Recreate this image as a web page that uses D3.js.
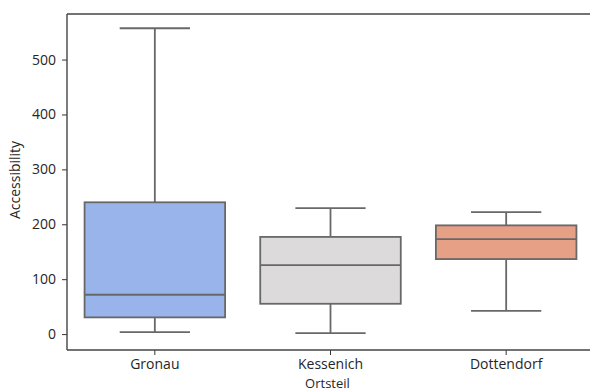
<!DOCTYPE html>
<html>
<head>
<meta charset="utf-8">
<script src="https://cdn.jsdelivr.net/npm/d3@7"></script>
<style>
  html, body { margin: 0; padding: 0; background: #fff; }
  svg { display: block; }
  text { font-family: "Open Sans", sans-serif; fill: #262626; }
</style>
</head>
<body>
<svg id="chart" width="590" height="392"></svg>
<script>
// Accessibility distribution per Ortsteil (box statistics)
const categories = ["Gronau", "Kessenich", "Dottendorf"];
const whiskerLow  = [3.6, 1.8, 42.4];
const quartile1   = [30.4, 55.2, 136.6];
const medians     = [71.6, 125.7, 173.0];
const quartile3   = [240.0, 177.0, 198.0];
const whiskerHigh = [557.0, 229.5, 222.0];
const boxColors   = ["#99b4eb", "#dcdada", "#e6a085"];
const yTicks      = [0, 100, 200, 300, 400, 500];

(function () {
  const svg = d3.select("#chart");
  const plotL = 67, plotR = 594, plotT = 14, plotB = 350;
  const fontSize = "14px";

  const x = d3.scaleBand().domain(categories).range([plotL, plotR]).paddingInner(0).paddingOuter(0);
  const y = d3.scaleLinear().domain([-29, 583]).range([plotB, plotT]);

  const lineColor = "#686868";
  const lw = 1.8;
  const boxW = x.bandwidth() * 0.8;
  const capW = boxW / 2;

  const data = categories.map((c, i) => ({
    c, lo: whiskerLow[i], q1: quartile1[i], med: medians[i], q3: quartile3[i], hi: whiskerHigh[i], color: boxColors[i]
  }));

  const g = svg.append("g");
  data.forEach(d => {
    const cx = x(d.c) + x.bandwidth() / 2;
    // whiskers
    g.append("line").attr("x1", cx).attr("x2", cx).attr("y1", y(d.q3)).attr("y2", y(d.hi))
      .attr("stroke", lineColor).attr("stroke-width", lw);
    g.append("line").attr("x1", cx).attr("x2", cx).attr("y1", y(d.q1)).attr("y2", y(d.lo))
      .attr("stroke", lineColor).attr("stroke-width", lw);
    // caps
    [d.lo, d.hi].forEach(v => {
      g.append("line").attr("x1", cx - capW / 2).attr("x2", cx + capW / 2).attr("y1", y(v)).attr("y2", y(v))
        .attr("stroke", lineColor).attr("stroke-width", lw);
    });
    // box
    g.append("rect").attr("x", cx - boxW / 2).attr("width", boxW)
      .attr("y", y(d.q3)).attr("height", y(d.q1) - y(d.q3))
      .attr("fill", d.color).attr("stroke", lineColor).attr("stroke-width", lw);
    // median
    g.append("line").attr("x1", cx - boxW / 2).attr("x2", cx + boxW / 2).attr("y1", y(d.med)).attr("y2", y(d.med))
      .attr("stroke", lineColor).attr("stroke-width", lw);
  });

  // axes
  const yAxis = d3.axisLeft(y).tickValues(yTicks).tickSize(5).tickPadding(6);
  const yG = svg.append("g").attr("transform", `translate(${plotL},0)`).call(yAxis);
  yG.select(".domain").remove();
  yG.selectAll(".tick line").attr("stroke", "#333");
  yG.selectAll(".tick text").style("font-size", fontSize).attr("fill", "#262626");

  const xAxis = d3.axisBottom(x).tickSize(5).tickPadding(4);
  const xG = svg.append("g").attr("transform", `translate(0,${plotB})`).call(xAxis);
  xG.select(".domain").remove();
  xG.selectAll(".tick line").attr("stroke", "#333");
  xG.selectAll(".tick text").style("font-size", fontSize).attr("fill", "#262626");

  // spines
  const spine = (x1, y1, x2, y2) => svg.append("line").attr("x1", x1).attr("y1", y1).attr("x2", x2).attr("y2", y2)
    .attr("stroke", "#444").attr("stroke-width", 1.4);
  spine(plotL, plotT, plotL, plotB);
  spine(plotL, plotB, plotR, plotB);
  spine(plotL, plotT, plotR, plotT);
  spine(plotR, plotT, plotR, plotB);

  // axis titles
  svg.append("text").attr("x", (plotL + plotR) / 2 - 3).attr("y", 388)
    .attr("text-anchor", "middle").style("font-size", "13px").text("Ortsteil");
  svg.append("text").attr("transform", `translate(20,${(plotT + plotB) / 2 - 2}) rotate(-90)`)
    .attr("text-anchor", "middle").style("font-size", fontSize).text("Accessibility");
})();
</script>
</body>
</html>
